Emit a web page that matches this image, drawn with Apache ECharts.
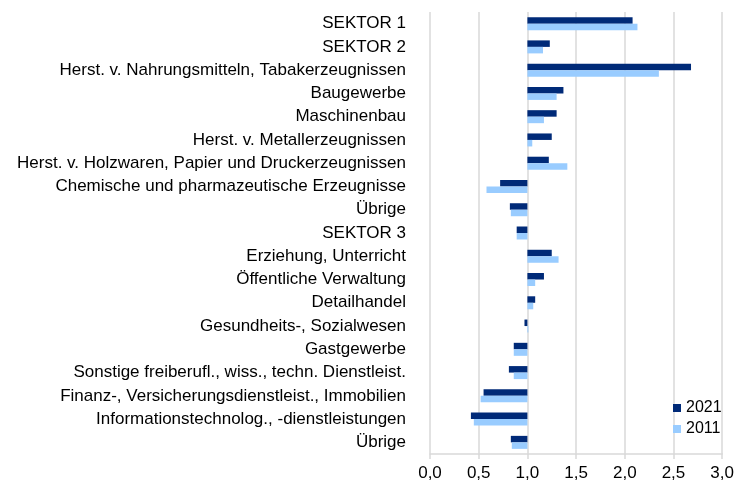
<!DOCTYPE html>
<html>
<head>
<meta charset="utf-8">
<title>Branchen 2021 / 2011</title>
<script src="https://cdn.jsdelivr.net/npm/echarts@6/dist/echarts.min.js"></script>
<style>
    html,body{margin:0;padding:0;background:#fff;}
    #chart{width:737px;height:483px;}
</style>
</head>
<body>
<div id="chart"></div>
<script>
// Kategorien (von oben nach unten)
var categories = [
    'SEKTOR 1',
    'SEKTOR 2',
    'Herst. v. Nahrungsmitteln, Tabakerzeugnissen',
    'Baugewerbe',
    'Maschinenbau',
    'Herst. v. Metallerzeugnissen',
    'Herst. v. Holzwaren, Papier und Druckerzeugnissen',
    'Chemische und pharmazeutische Erzeugnisse',
    'Übrige',
    'SEKTOR 3',
    'Erziehung, Unterricht',
    'Öffentliche Verwaltung',
    'Detailhandel',
    'Gesundheits-, Sozialwesen',
    'Gastgewerbe',
    'Sonstige freiberufl., wiss., techn. Dienstleist.',
    'Finanz-, Versicherungsdienstleist., Immobilien',
    'Informationstechnolog., -dienstleistungen',
    'Übrige'
];
var values2021 = [2.08, 1.23, 2.68, 1.37, 1.30, 1.25, 1.22, 0.72, 0.82, 0.89, 1.25, 1.17, 1.08, 0.97, 0.86, 0.81, 0.55, 0.42, 0.83];
var values2011 = [2.13, 1.16, 2.35, 1.30, 1.17, 1.05, 1.41, 0.58, 0.83, 0.89, 1.32, 1.08, 1.06, 1.01, 0.86, 0.86, 0.52, 0.45, 0.84];
var xTicks = [0, 0.5, 1, 1.5, 2, 2.5, 3];
var baseline = 1;

var col2021 = '#002A78',
    col2011 = '#99CCFF';

// Balken starten bei 1,0 -> unsichtbarer Sockel + sichtbarer Teil
function basePart(arr){
    return arr.map(function(v){ return Math.min(v, baseline); });
}
function barPart(arr){
    return arr.map(function(v){ return Math.abs(v - baseline); });
}

var chart = echarts.init(document.getElementById('chart'));

var option = {
    animation: false,
    textStyle: {fontFamily: '"Liberation Sans", Arial, sans-serif'},
    grid: {left: 430, right: 14, top: 12, bottom: 29},
    legend: {
        orient: 'vertical',
        left: 668,
        top: 395,
        itemWidth: 8,
        itemHeight: 8,
        itemGap: 5,
        icon: 'rect',
        data: ['2021', '2011'],
        textStyle: {fontSize: 16, color: '#000'}
    },
    xAxis: {
        type: 'value',
        min: xTicks[0],
        max: xTicks[xTicks.length - 1],
        interval: 0.5,
        axisLine: {show: true, lineStyle: {color: '#d9d9d9', width: 1.5}},
        axisTick: {show: true, length: 5, lineStyle: {color: '#d9d9d9', width: 1.5}},
        splitLine: {show: true, lineStyle: {color: '#d9d9d9', width: 1.5}},
        axisLabel: {
            fontSize: 17,
            color: '#000',
            margin: 11,
            formatter: function(v){ return v.toFixed(1).replace('.', ','); }
        }
    },
    yAxis: {
        type: 'category',
        inverse: true,
        data: categories,
        axisLine: {show: false},
        axisTick: {show: false},
        splitLine: {show: false},
        axisLabel: {fontSize: 17, color: '#000', margin: 24, interval: 0}
    },
    series: [
        {
            name: 'b2021', type: 'bar', stack: 'a', barWidth: 6.5, barGap: '0%',
            itemStyle: {color: 'transparent'}, silent: true,
            data: basePart(values2021)
        },
        {
            name: '2021', type: 'bar', stack: 'a', barWidth: 6.5, barGap: '0%',
            itemStyle: {color: col2021},
            data: barPart(values2021)
        },
        {
            name: 'b2011', type: 'bar', stack: 'b', barWidth: 6.5, barGap: '0%',
            itemStyle: {color: 'transparent'}, silent: true,
            data: basePart(values2011)
        },
        {
            name: '2011', type: 'bar', stack: 'b', barWidth: 6.5, barGap: '0%',
            itemStyle: {color: col2011},
            data: barPart(values2011)
        }
    ]
};
chart.setOption(option);
</script>
</body>
</html>
